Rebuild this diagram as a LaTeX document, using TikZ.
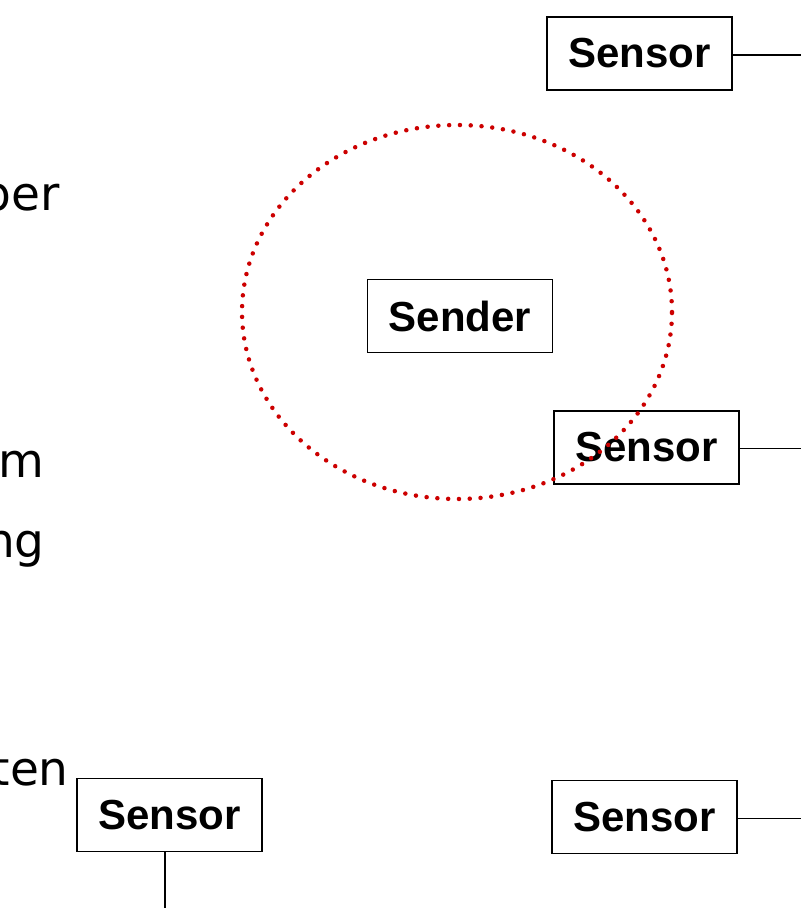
\documentclass[tikz,border=0pt]{standalone}
\usepackage{fontspec}
\setmainfont{DejaVu Sans}
\newfontfamily\boxfont{Liberation Sans}
\usepackage{tikz}
\usetikzlibrary{calc}
\usetikzlibrary{positioning,shapes}
\definecolor{rangered}{RGB}{204,0,0}
\tikzstyle{line}=[-, line width=1.4pt]
\tikzstyle{unit}=[draw, line width=1.8pt, inner sep=0pt, minimum width=185pt,
  minimum height=73pt, font=\boxfont\bfseries\fontsize{42}{42}\selectfont]
\tikzstyle{slidetext}=[anchor=base east, inner sep=0pt,
  font=\fontsize{47}{47}\selectfont]

\begin{document}
\begin{tikzpicture}[x=1pt,y=-1pt]
  \useasboundingbox (0,0) rectangle (801,908);

  % text cut off at the slide's left edge
  \node[slidetext] (tper) at (60,210) {per};
  \node[slidetext] (tm) at (44,477) {m};
  \node[slidetext] (tng) at (45,557) {ng};
  \node[slidetext] (tten) at (69,785) {ten};

  \coordinate (sendc) at (460,316);
  \coordinate (s1c) at (639.5,53.5);
  \coordinate (s2c) at (646.5,447.5);
  \coordinate (s3c) at (169.5,815);
  \coordinate (s4c) at (644.5,817);

  % free ends at the border
  \coordinate (s1out) at (801,55);
  \coordinate (s2out) at (801,448.5);
  \coordinate (s3out) at (165,908);
  \coordinate (s4out) at (801,818.5);

  \node[unit] (send) at (sendc) {Sender};
  \node[unit] (s1) at (s1c) {Sensor};
  \node[unit] (s2) at (s2c) {Sensor};
  \node[unit] (s3) at (s3c) {Sensor};
  \node[unit] (s4) at (s4c) {Sensor};

  \draw[line] (s1.east |- s1out) -- (s1out);
  \draw[line] (s2.east |- s2out) -- (s2out);
  \draw[line] (s3.south -| s3out) -- (s3out);
  \draw[line] (s4.east |- s4out) -- (s4out);

  % range of the sender
  \draw[rangered, line width=4.5pt, line cap=round, dash pattern=on 0pt off 10.8pt]
  (457,312) ellipse [x radius=215pt, y radius=187pt];

\end{tikzpicture}
\end{document}
